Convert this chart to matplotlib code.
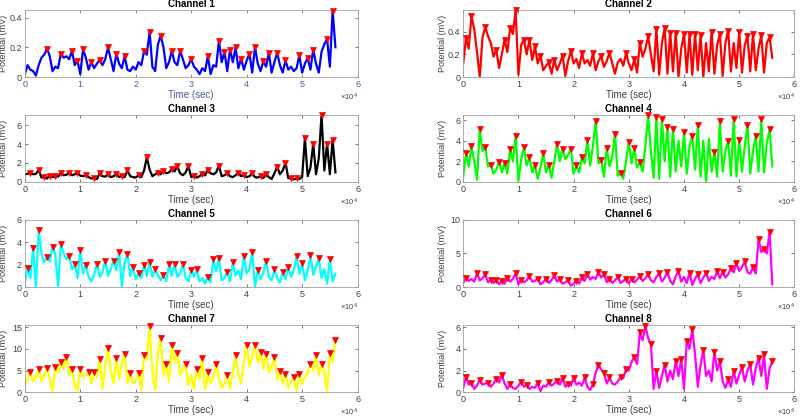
import numpy as np
import matplotlib.pyplot as plt

plt.rcParams['font.family'] = ['Liberation Sans', 'DejaVu Sans']
plt.rcParams['mathtext.default'] = 'regular'

# sampling: one value every 500 s, 0 .. 56000 s
dt = 500
n_samples = 113

ch1 = [0.02, 0.08, 0.05, 0.04, 0.01, 0.08, 0.13, 0.15, 0.19, 0.14,
       0.04, 0.07, 0.06, 0.158, 0.13, 0.14, 0.12, 0.176, 0.08, 0.11,
       0.02, 0.188, 0.13, 0.05, 0.10, 0.06, 0.09, 0.117, 0.08, 0.12,
       0.199, 0.12, 0.04, 0.158, 0.09, 0.06, 0.14, 0.05, 0.04, 0.07,
       0.05, 0.10, 0.08, 0.174, 0.15, 0.305, 0.07, 0.04, 0.22, 0.276,
       0.20, 0.06, 0.10, 0.176, 0.10, 0.08, 0.176, 0.12, 0.06, 0.08,
       0.12, 0.07, 0.05, 0.02, 0.06, 0.04, 0.14, 0.02, 0.08, 0.07,
       0.244, 0.10, 0.17, 0.04, 0.185, 0.10, 0.199, 0.06, 0.124, 0.05,
       0.11, 0.158, 0.03, 0.203, 0.09, 0.04, 0.106, 0.07, 0.165, 0.03,
       0.10, 0.163, 0.08, 0.03, 0.113, 0.05, 0.07, 0.04, 0.06, 0.147,
       0.03, 0.09, 0.129, 0.05, 0.185, 0.09, 0.03, 0.17, 0.22, 0.255,
       0.07, 0.447, 0.20]
ch1_peaks = [8, 13, 17, 19, 21, 24, 27, 30, 33, 36, 43, 45, 49, 53, 56, 60,
             66, 70, 72, 74, 76, 78, 81, 83, 86, 88, 91, 94, 99, 102, 104,
             109, 111]

ch2 = [0.12, 0.34, 0.25, 0.537, 0.42, 0.22, 0.0, 0.35, 0.44, 0.36,
       0.30, 0.18, 0.24, 0.08, 0.20, 0.33, 0.22, 0.43, 0.38, 0.59,
       0.02, 0.28, 0.33, 0.20, 0.33, 0.15, 0.27, 0.12, 0.19, 0.06,
       0.10, 0.13, 0.03, 0.15, 0.06, 0.12, 0.19, 0.01, 0.14, 0.23,
       0.12, 0.16, 0.08, 0.21, 0.12, 0.15, 0.10, 0.21, 0.06, 0.14,
       0.185, 0.09, 0.14, 0.215, 0.12, 0.03, 0.13, 0.16, 0.10, 0.21,
       0.12, 0.06, 0.155, 0.04, 0.30, 0.18, 0.25, 0.36, 0.20, 0.05,
       0.425, 0.02, 0.30, 0.43, 0.03, 0.39, 0.05, 0.39, 0.0, 0.25,
       0.38, 0.04, 0.38, 0.02, 0.38, 0.06, 0.37, 0.0, 0.30, 0.05,
       0.40, 0.03, 0.28, 0.38, 0.01, 0.30, 0.41, 0.05, 0.30, 0.08,
       0.40, 0.04, 0.28, 0.36, 0.05, 0.38, 0.06, 0.25, 0.37, 0.04,
       0.30, 0.35, 0.17]
ch2_peaks = [1, 3, 8, 12, 15, 17, 19, 22, 24, 26, 28, 31, 33, 36, 39, 43,
             47, 50, 53, 59, 62, 64, 67, 70, 73, 75, 77, 80, 82, 84, 86,
             90, 93, 96, 100, 103, 105, 108, 111]

ch3 = [0.8, 0.85, 0.96, 0.8, 0.85, 1.25, 0.45, 0.54, 0.35, 0.64,
       0.5, 0.64, 0.55, 0.9, 0.7, 0.75, 0.96, 0.7, 0.8, 0.96,
       0.65, 0.6, 0.71, 0.5, 0.35, 0.43, 0.3, 0.9, 0.6, 0.55,
       0.79, 0.5, 0.6, 0.82, 0.5, 0.64, 0.5, 1.21, 0.6, 0.5,
       0.45, 0.71, 0.5, 1.2, 2.6, 1.3, 0.6, 0.8, 0.96, 0.8,
       1.14, 0.9, 1.0, 1.32, 1.1, 1.68, 0.9, 0.7, 1.0, 1.68,
       0.5, 0.64, 0.45, 0.6, 0.82, 0.7, 1.25, 0.9, 0.8, 1.0,
       1.71, 0.6, 0.7, 0.9, 0.6, 0.5, 0.7, 0.96, 0.6, 0.71,
       0.5, 0.6, 0.9, 0.5, 0.45, 0.61, 0.4, 0.82, 0.5, 0.3,
       0.9, 1.6, 0.8, 1.2, 2.03, 0.4, 0.36, 0.25, 0.36, 0.3,
       0.5, 4.64, 0.6, 1.5, 4.04, 0.8, 2.5, 7.07, 1.2, 4.04,
       0.8, 4.46, 1.0]
ch3_peaks = [2, 5, 7, 9, 11, 13, 16, 19, 22, 25, 27, 30, 33, 35, 37, 41,
             44, 48, 50, 53, 55, 59, 61, 64, 66, 70, 73, 77, 79, 82, 85,
             87, 91, 94, 96, 98, 101, 104, 107, 109, 111]

ch4 = [0.5, 2.81, 1.5, 3.47, 2.0, 0.2, 5.19, 3.0, 3.4, 1.5,
       1.65, 0.8, 1.2, 1.98, 0.9, 1.88, 0.8, 3.24, 2.0, 4.46,
       0.1, 2.2, 3.37, 1.6, 2.38, 0.9, 1.65, 0.3, 1.4, 2.81,
       0.9, 1.65, 0.4, 2.0, 3.7, 2.0, 3.24, 2.2, 2.6, 3.24,
       0.8, 1.65, 0.9, 2.38, 1.8, 4.13, 1.6, 3.5, 5.95, 1.8,
       2.15, 0.5, 3.3, 1.5, 2.5, 4.69, 0.6, 0.83, 0.3, 2.0,
       3.9, 1.8, 3.3, 1.4, 1.92, 1.0, 3.5, 6.51, 3.0, 0.4,
       6.38, 0.3, 6.18, 2.0, 5.39, 0.5, 5.19, 1.0, 4.0, 1.5,
       4.89, 0.8, 3.5, 4.46, 1.2, 5.55, 0.5, 4.0, 0.0, 4.2,
       1.0, 2.91, 0.5, 5.95, 1.0, 3.0, 3.97, 0.6, 6.12, 0.5,
       4.13, 1.0, 3.5, 5.55, 0.8, 3.0, 4.46, 1.0, 6.12, 0.9,
       3.8, 5.12, 1.5]
ch4_peaks = [1, 3, 6, 8, 10, 13, 15, 17, 19, 22, 24, 26, 29, 31, 34, 36,
             39, 41, 43, 45, 48, 50, 52, 55, 57, 60, 62, 64, 67, 70, 72,
             74, 76, 80, 83, 85, 91, 93, 96, 98, 100, 103, 106, 108, 111]

ch5 = [0.3, 1.74, 0.8, 3.5, 0.0, 5.11, 3.0, 2.2, 2.68, 2.3,
       3.6, 2.9, 0.0, 3.87, 3.0, 2.5, 2.8, 1.6, 2.04, 0.8,
       3.35, 1.2, 1.98, 0.9, 0.5, 1.1, 2.07, 0.9, 1.3, 2.37,
       1.0, 1.6, 2.37, 1.5, 3.1, 0.0, 2.2, 2.95, 1.0, 1.77,
       0.7, 1.22, 0.8, 1.95, 1.0, 2.28, 0.9, 1.58, 1.1, 0.6,
       1.07, 0.5, 2.04, 1.0, 2.04, 0.9, 1.2, 2.07, 0.8, 0.5,
       1.52, 0.9, 1.58, 0.5, 0.8, 0.3, 0.91, 0.4, 2.5, 1.4,
       2.59, 0.6, 0.8, 1.37, 0.5, 2.22, 1.0, 1.5, 0.7, 2.8,
       1.2, 1.6, 3.13, 0.0, 1.52, 0.7, 1.3, 2.37, 0.9, 0.6,
       1.58, 0.8, 0.4, 1.31, 0.7, 1.77, 0.9, 1.5, 2.74, 1.2,
       2.19, 0.6, 1.5, 2.83, 1.1, 1.8, 2.59, 0.8, 1.6, 0.3,
       2.5, 0.5, 1.2]
ch5_peaks = [1, 3, 5, 8, 10, 13, 16, 18, 20, 22, 26, 29, 32, 34, 37, 39,
             41, 43, 45, 47, 50, 52, 54, 57, 60, 62, 66, 68, 70, 73, 75,
             79, 82, 84, 87, 90, 93, 95, 98, 100, 103, 106, 110]

ch6 = [0.6, 1.37, 0.9, 1.2, 0.8, 2.03, 1.0, 1.3, 1.88, 0.7,
       1.12, 0.6, 1.02, 0.4, 0.86, 0.5, 1.37, 0.8, 1.2, 2.03,
       0.4, 1.12, 0.7, 1.0, 1.62, 0.8, 0.9, 1.27, 0.4, 0.7,
       1.27, 0.6, 1.0, 1.78, 0.8, 1.17, 0.5, 0.7, 1.02, 0.2,
       0.5, 0.91, 0.5, 1.42, 0.9, 1.93, 1.1, 1.5, 1.2, 2.28,
       1.4, 1.88, 0.7, 1.27, 0.6, 1.0, 1.52, 0.6, 0.9, 1.27,
       0.5, 1.27, 0.7, 1.1, 1.62, 0.9, 1.3, 1.93, 1.0, 0.7,
       1.5, 2.03, 0.8, 1.4, 2.28, 0.9, 0.4, 1.6, 2.39, 0.8,
       1.5, 0.6, 2.13, 0.3, 1.2, 1.88, 0.6, 1.4, 2.13, 0.9,
       1.5, 1.2, 2.39, 1.3, 2.28, 1.4, 1.9, 2.79, 2.2, 3.55,
       2.4, 3.0, 3.81, 2.2, 2.0, 2.94, 2.0, 7.1, 5.2, 5.69,
       5.0, 8.2, 0.4]
ch6_peaks = [1, 5, 8, 10, 12, 14, 16, 19, 21, 24, 27, 30, 33, 35, 38, 41,
             43, 45, 49, 51, 53, 56, 59, 61, 64, 67, 71, 74, 78, 82, 85,
             88, 92, 94, 97, 99, 102, 105, 107, 109, 111]

ch7 = [1.5, 3.0, 4.74, 2.5, 3.5, 5.29, 2.5, 3.8, 5.53, 3.0,
       0.2, 5.92, 4.5, 6.95, 5.5, 8.06, 4.0, 5.37, 1.5, 0.3,
       5.29, 3.5, 4.0, 4.74, 2.0, 4.74, 3.5, 7.66, 0.8, 6.0,
       10.27, 5.0, 2.0, 7.9, 3.0, 6.5, 8.93, 2.0, 4.34, 2.2,
       2.5, 4.5, 0.5, 8.7, 7.5, 15.4, 5.0, 0.5, 9.0, 12.64,
       4.0, 6.56, 2.5, 10.9, 7.0, 9.08, 4.0, 5.5, 6.56, 1.5,
       4.0, 0.8, 5.37, 3.0, 7.9, 0.5, 4.58, 2.0, 3.5, 6.56,
       3.5, 1.0, 2.0, 3.95, 0.8, 4.5, 8.53, 4.0, 2.0, 7.0,
       10.82, 6.0, 8.0, 10.82, 7.0, 9.24, 5.5, 8.85, 4.5, 6.0,
       8.06, 3.0, 4.98, 2.0, 4.1, 1.0, 2.5, 3.4, 0.3, 4.19,
       2.0, 3.5, 4.5, 6.56, 5.0, 8.7, 4.0, 6.56, 4.5, 0.3,
       9.0, 7.0, 12.1]
ch7_peaks = [2, 5, 8, 11, 13, 15, 17, 20, 23, 25, 27, 30, 33, 36, 38, 41,
             43, 45, 49, 51, 53, 55, 58, 62, 64, 66, 69, 73, 76, 80, 83,
             85, 87, 90, 92, 94, 97, 99, 103, 105, 107, 110, 112]

ch8 = [0.4, 1.44, 0.7, 0.86, 0.3, 0.6, 1.12, 0.7, 0.8, 0.86,
       0.5, 0.8, 1.21, 0.9, 1.6, 0.8, 0.3, 0.73, 0.4, 0.3,
       0.6, 0.96, 0.5, 0.64, 0.3, 0.5, 0.4, 0.86, 0.1, 0.6,
       0.5, 0.96, 0.6, 0.8, 1.05, 0.7, 1.28, 0.5, 0.73, 0.6,
       1.28, 0.7, 0.9, 0.6, 1.37, 0.5, 0.2, 0.73, 1.8, 2.55,
       2.1, 1.75, 0.8, 1.37, 0.8, 0.7, 1.0, 1.37, 1.3, 2.14,
       2.0, 2.8, 3.29, 2.6, 5.52, 4.8, 6.15, 5.0, 4.47, 0.3,
       1.98, 0.4, 1.5, 2.55, 1.0, 2.0, 1.2, 2.87, 1.5, 3.03,
       0.3, 4.72, 4.0, 5.84, 3.5, 0.5, 2.5, 3.92, 1.5, 2.0,
       1.0, 3.76, 2.0, 2.87, 1.0, 0.4, 1.21, 0.5, 1.98, 0.8,
       1.6, 2.33, 1.0, 2.0, 2.62, 0.7, 2.2, 3.19, 1.5, 3.51,
       0.3, 2.2, 2.87]
ch8_peaks = [1, 3, 6, 9, 12, 14, 17, 21, 23, 27, 31, 34, 36, 38, 40, 44,
             47, 49, 51, 53, 57, 59, 62, 64, 66, 68, 70, 73, 77, 79, 81,
             83, 87, 91, 93, 96, 98, 101, 104, 107, 109, 112]

channels = [ch1, ch2, ch3, ch4, ch5, ch6, ch7, ch8]
peaks = [ch1_peaks, ch2_peaks, ch3_peaks, ch4_peaks,
         ch5_peaks, ch6_peaks, ch7_peaks, ch8_peaks]
line_colors = ['#0000ff', '#ff0000', '#000000', '#00ff00',
               '#00ffff', '#ff00ff', '#ffff00', '#ff00ff']
y_tops = [0.45, 0.59, 7.1, 6.55, 6, 10, 15.5, 6.2]
y_ticks = [[0, 0.2, 0.4], [0, 0.2, 0.4], [0, 2, 4, 6], [0, 2, 4, 6],
           [0, 2, 4, 6], [0, 5, 10], [0, 5, 10, 15], [0, 2, 4, 6]]

t = np.arange(n_samples) * dt

fig = plt.figure(figsize=(8, 4.19), dpi=100)

col_left = [0.031, 0.579]
col_width = [0.416, 0.414]
row_bottom = [0.816, 0.566, 0.315, 0.064]
row_height = 0.160
text_gray = '#404040'

for i in range(8):
    row, col = i // 2, i % 2
    ax = fig.add_axes([col_left[col], row_bottom[row], col_width[col], row_height])
    sig = np.array(channels[i])
    pk = np.array(peaks[i])
    ax.plot(t, sig, color=line_colors[i], lw=1.6, zorder=2)
    ax.plot(t[pk], sig[pk], 'v', color='#ff0000', ms=4.6, mec='#ff0000',
            mew=0.5, zorder=3, clip_on=False)

    ax.set_xlim(0, 60000)
    ax.set_ylim(0, y_tops[i])
    ax.set_xticks([0, 10000, 20000, 30000, 40000, 50000, 60000])
    ax.set_xticklabels(['0', '1', '2', '3', '4', '5', '6'])
    ax.set_yticks(y_ticks[i])
    ax.set_yticklabels([f'{v:g}' for v in y_ticks[i]])

    ax.tick_params(direction='in', length=2.5, width=0.5, labelsize=6.5,
                   colors=text_gray, top=True, right=True, pad=2)
    for s in ax.spines.values():
        s.set_linewidth(0.6)
        s.set_color('#a0a0a0')

    ax.set_title(f'Channel {i + 1}', fontsize=7, fontweight='bold',
                 color='#000000', pad=2)
    xcol = '#4d5a9e' if i == 0 else text_gray
    ax.set_xlabel('Time (sec)', fontsize=7, color=xcol, labelpad=1)
    ax.set_ylabel('Potential (mV)', fontsize=6.5, color=text_gray)
    ax.yaxis.set_label_coords(-0.05, 0.5)
    if i == 0:
        ax.tick_params(axis='x', colors=xcol)
    ax.text(1.0, -0.22, r'$\times10^{4}$', transform=ax.transAxes,
            ha='right', va='top', fontsize=5.5, color=text_gray)

fig.savefig('out.png', dpi=100)
